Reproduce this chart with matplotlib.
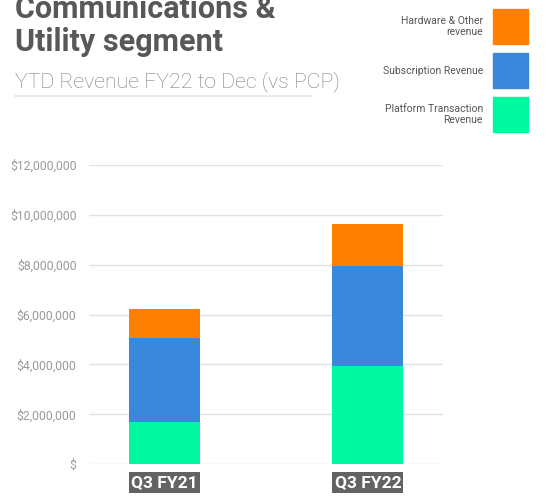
import matplotlib
matplotlib.use("Agg")
import matplotlib.pyplot as plt
from matplotlib.patches import Rectangle
from matplotlib.ticker import FuncFormatter

periods = ["Q3 FY21", "Q3 FY22"]
series = ["Platform Transaction\nRevenue", "Subscription Revenue", "Hardware & Other\nrevenue"]
platform = [1680000, 3940000]
subscription = [3370000, 4000000]
hardware = [1160000, 1680000]
colors = ["#00F9A0", "#3A88DC", "#FF8000"]
yticks = [0, 2000000, 4000000, 6000000, 8000000, 10000000, 12000000]
title_lines = ["Communications &", "Utility segment"]

narrow = ["Liberation Sans Narrow", "Roboto", "DejaVu Sans"]
roboto = ["Roboto", "DejaVu Sans"]

fig = plt.figure(figsize=(5.54, 4.96), dpi=100)
ax = fig.add_axes([89 / 554, 32 / 496, 354 / 554, 299 / 496])

x = range(len(periods))
w = 0.348
bottom = [0, 0]
for vals, c in zip([platform, subscription, hardware], colors):
    ax.bar(x, vals, w, bottom=bottom, color=c, zorder=3)
    bottom = [b + v for b, v in zip(bottom, vals)]

# dark label boxes under each bar
ax.bar(x, 840000, w, bottom=-1160000, color="#636363", clip_on=False, zorder=3)
for i, p in enumerate(periods):
    ax.text(i, -740000, p, ha="center", va="center", color="white",
            fontsize=12.5, fontweight="bold", family=narrow)

ax.set_xlim(-0.368, 1.368)
ax.set_ylim(0, 12000000)
ax.set_yticks(yticks)
ax.yaxis.set_major_formatter(FuncFormatter(lambda v, _: "$" if v == 0 else f"${v:,.0f}"))
ax.set_xticks([])
ax.tick_params(axis="y", length=0, pad=9, labelsize=8.8, labelcolor="#9a9a9a")
for lab in ax.get_yticklabels():
    lab.set_family(roboto)
ax.grid(axis="y", color="#e2e2e2", linewidth=1, zorder=0)
for s in ax.spines.values():
    s.set_visible(False)

# titles (first line runs off the top, as in the original)
for line, base in zip(title_lines, [18, 51]):
    fig.text(15 / 554, 1 - base / 496, line, ha="left", va="baseline",
             fontsize=22, fontweight="bold", color="#58585a", family=roboto)
fig.text(15 / 554, 1 - 87 / 496, "YTD Revenue FY22 to Dec (vs PCP)", ha="left", va="baseline",
         fontsize=15.3, fontweight="light", color="#7c7c7c", family=roboto)
fig.add_artist(plt.Line2D([15 / 554, 312 / 554], [1 - 96 / 496] * 2, color="#ebebeb", lw=1.5))

# legend drawn by hand, top to bottom
leg_y = [9, 53, 97]
for top, name, c in zip(leg_y, series[::-1], colors[::-1]):
    fig.add_artist(Rectangle((493 / 554, 1 - (top + 35) / 496), 35 / 554, 35 / 496,
                             transform=fig.transFigure, color=c))
    fig.text(483 / 554, 1 - (top + 17.5) / 496, name, ha="right", va="center",
             fontsize=7.5, color="#555555", family=roboto, linespacing=1.2)

fig.savefig("out.png", dpi=100)
